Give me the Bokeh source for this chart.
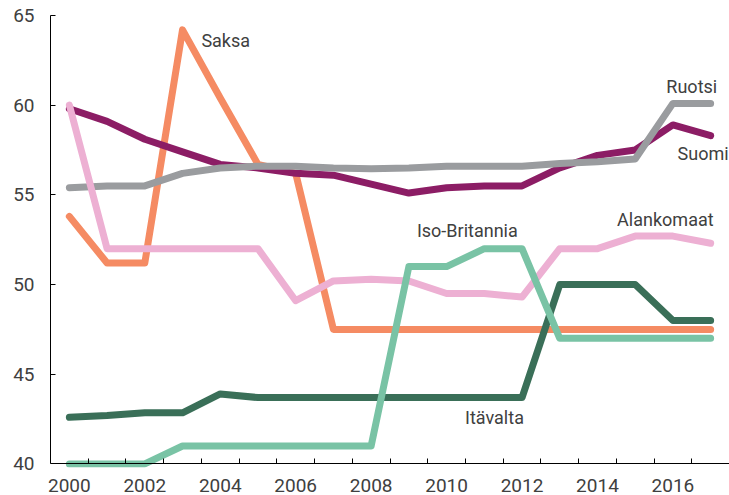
from bokeh.plotting import figure
from bokeh.models import Range1d, FixedTicker, LinearAxis
from bokeh.core.properties import value
from bokeh.embed import file_html
from bokeh.resources import INLINE

years = list(range(2000, 2018))

suomi = [59.8, 59.1, 58.1, 57.4, 56.7, 56.5, 56.2, 56.1, 55.6, 55.1, 55.4, 55.5, 55.5, 56.5, 57.2, 57.5, 58.9, 58.3]
ruotsi = [55.4, 55.5, 55.5, 56.2, 56.5, 56.6, 56.6, 56.5, 56.45, 56.5, 56.6, 56.6, 56.6, 56.75, 56.85, 57.0, 60.1, 60.1]
saksa = [53.8, 51.2, 51.2, 64.2, 60.4, 56.7, 56.2, 47.5, 47.5, 47.5, 47.5, 47.5, 47.5, 47.5, 47.5, 47.5, 47.5, 47.5]
alankomaat = [60.0, 52.0, 52.0, 52.0, 52.0, 52.0, 49.1, 50.2, 50.3, 50.2, 49.5, 49.5, 49.3, 52.0, 52.0, 52.7, 52.7, 52.3]
iso_britannia = [40.0, 40.0, 40.0, 41.0, 41.0, 41.0, 41.0, 41.0, 41.0, 51.0, 51.0, 52.0, 52.0, 47.0, 47.0, 47.0, 47.0, 47.0]
itavalta = [42.6, 42.7, 42.85, 42.85, 43.9, 43.7, 43.7, 43.7, 43.7, 43.7, 43.7, 43.7, 43.7, 50.0, 50.0, 50.0, 48.0, 48.0]

y_ticks = [40, 45, 50, 55, 60, 65]
x_label_years = [2000, 2002, 2004, 2006, 2008, 2010, 2012, 2014, 2016]

# drawing order (bottom to top)
series = [
    ("Saksa", saksa, "#F58B63"),
    ("Itävalta", itavalta, "#3A6F58"),
    ("Suomi", suomi, "#8C1D65"),
    ("Ruotsi", ruotsi, "#9A9C9F"),
    ("Alankomaat", alankomaat, "#EDB0D3"),
    ("Iso-Britannia", iso_britannia, "#79C3A5"),
]

# label placement (x, y, align)
label_pos = {
    "Saksa": (2003.5, 63.6, "left"),
    "Ruotsi": (2016.5, 61.05, "center"),
    "Suomi": (2016.8, 57.3, "center"),
    "Alankomaat": (2015.8, 53.65, "center"),
    "Iso-Britannia": (2010.55, 53.0, "center"),
    "Itävalta": (2011.27, 42.6, "center"),
}

FONT = "Roboto"
TEXT_COLOR = "#404040"

p = figure(width=729, height=495, output_backend="svg", toolbar_location=None,
           x_range=Range1d(1999.5, 2017.5), y_range=Range1d(39.8, 65.0),
           x_axis_location=None,
           min_border_left=50, min_border_right=0, min_border_top=15, min_border_bottom=28)
p.outline_line_color = None
p.grid.visible = False
p.background_fill_color = "white"
p.border_fill_color = "white"

for name, vals, color in series:
    p.line(years, vals, line_color=color, line_width=7, line_cap="round", line_join="round")

for name, vals, color in series:
    x, y, align = label_pos[name]
    p.text(x=[x], y=[y], text=[name], text_font=value(FONT), text_font_size="18px",
           text_color=TEXT_COLOR, text_align=align, text_baseline="middle")

# axis line + ticks at y = 40 (inside the frame, lines drawn above)
xa = LinearAxis(fixed_location=40, bounds=(1999.5, 2017.5),
                ticker=FixedTicker(ticks=x_label_years, minor_ticks=[y + 0.5 for y in years]))
xa.major_tick_in = 0
xa.major_tick_out = 0
xa.minor_tick_in = 5
xa.minor_tick_out = 0
xa.minor_tick_line_color = "black"
xa.axis_line_color = "black"
xa.major_label_text_alpha = 0
p.add_layout(xa, "below")

# labels only
xl = LinearAxis(ticker=FixedTicker(ticks=x_label_years))
xl.axis_line_color = None
xl.major_tick_line_color = None
xl.minor_tick_line_color = None
xl.major_tick_in = 0
xl.major_tick_out = 0
xl.major_label_standoff = 11
xl.major_label_text_font = FONT
xl.major_label_text_font_size = "19px"
xl.major_label_text_color = TEXT_COLOR
p.add_layout(xl, "below")

ya = p.yaxis[0]
ya.bounds = (40, 65)
ya.ticker = FixedTicker(ticks=y_ticks)
ya.major_tick_in = 5
ya.major_tick_out = 0
ya.minor_tick_in = 0
ya.minor_tick_out = 0
ya.axis_line_color = "black"
ya.major_label_standoff = 16
ya.major_label_text_font = FONT
ya.major_label_text_font_size = "19px"
ya.major_label_text_color = TEXT_COLOR

open("out.html", "w").write(file_html(p, INLINE))
